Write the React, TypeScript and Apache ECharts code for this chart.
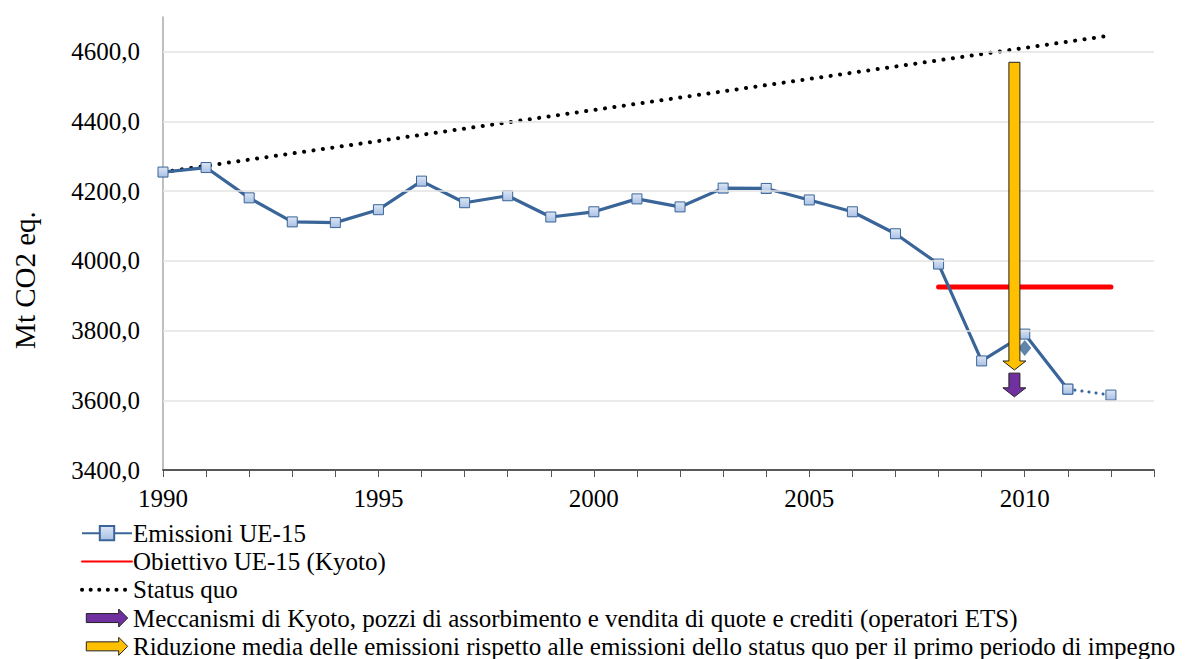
import React, { useEffect, useRef } from "react";
import * as echarts from "echarts";

const years = [1990, 1991, 1992, 1993, 1994, 1995, 1996, 1997, 1998, 1999, 2000, 2001, 2002, 2003, 2004, 2005, 2006, 2007, 2008, 2009, 2010, 2011];
const emissions = [4255, 4268, 4181, 4112, 4110, 4147, 4229, 4167, 4187, 4126, 4141, 4178, 4155, 4209, 4208, 4175, 4141, 4078, 3991, 3713, 3790, 3632];
const tailYears = [2011, 2012];
const tailValues = [3632, 3615];
const diamondPoint = [2010, 3750];
const kyotoYears = [2008, 2012];
const kyotoValue = 3925;
const statusQuo = [[1990, 4255], [2012, 4647]];
const arrowX = 2009.76;
const yellowArrow = [4570, 3687];
const purpleArrow = [3678, 3610];
const gridValues = [3600, 3800, 4000, 4200, 4400, 4600];
const yLabelValues = [3400, 3600, 3800, 4000, 4200, 4400, 4600];
const xLabelYears = [1990, 1995, 2000, 2005, 2010];
const yTicks = { min: 3400, max: 4700, interval: 200 };
const xRange = { min: 1990, max: 2013 };
const yTitle = "Mt CO2 eq.";

const names = {
  emissions: "Emissioni UE-15",
  kyoto: "Obiettivo UE-15 (Kyoto)",
  status: "Status quo",
  purple: "Meccanismi di Kyoto, pozzi di assorbimento e vendita di quote e crediti (operatori ETS)",
  yellow: "Riduzione media delle emissioni rispetto alle emissioni dello status quo per il primo periodo di impegno",
};
const legendOrder = [names.emissions, names.kyoto, names.status, names.purple, names.yellow];

const FONT = "Liberation Serif";
const BLUE = "#3a6598";
const ARROW_ICON = "path://M0,5 L36,5 L36,0 L46,10 L36,20 L36,15 L0,15 Z";
const HIDDEN = { color: "rgba(0,0,0,0)", borderColor: "rgba(0,0,0,0)", borderWidth: 0 };
const LEGEND_TOP = 519;
const LEGEND_ROW = 28.3;
const TINY = 0.0005;

function arrowRenderer(color: string) {
  return (params: any, api: any) => {
    const x = api.value(0);
    const top = api.coord([x, api.value(1)]);
    const tip = api.coord([x, api.value(2)]);
    const cx = top[0];
    const sw = 5.5;
    const hw = 11.5;
    const hl = 9;
    const pts = [
      [cx - sw, top[1]],
      [cx + sw, top[1]],
      [cx + sw, tip[1] - hl],
      [cx + hw, tip[1] - hl],
      [cx, tip[1]],
      [cx - hw, tip[1] - hl],
      [cx - sw, tip[1] - hl],
    ];
    return {
      type: "polygon",
      shape: { points: pts },
      style: { fill: color, stroke: "#222", lineWidth: 1 },
    };
  };
}

function txt(text: string, x: number, y: number, align: string, vAlign: string, size = 25, rotation = TINY) {
  return {
    type: "text",
    x,
    y,
    rotation,
    silent: true,
    style: { text, fontFamily: FONT, fontSize: size, fill: "#000", align, verticalAlign: vAlign },
  };
}

export default function App() {
  const ref = useRef<HTMLDivElement>(null);
  useEffect(() => {
    if (!ref.current) return;
    const chart = echarts.init(ref.current, null, { renderer: "svg" });
    const markerStyle = {
      color: new echarts.graphic.LinearGradient(0, 0, 0, 1, [
        { offset: 0, color: "#dce6f5" },
        { offset: 1, color: "#a9c0e4" },
      ]),
      borderColor: BLUE,
      borderWidth: 1,
    };
    chart.setOption({
      animation: false,
      grid: { left: 163, right: 38, top: 17, bottom: 189 },
      legend: {
        orient: "vertical",
        left: 80,
        top: LEGEND_TOP,
        height: 200,
        padding: 0,
        itemWidth: 50,
        itemHeight: 18,
        itemGap: 0,
        formatter: () => " ",
        textStyle: { fontFamily: FONT, fontSize: 25, lineHeight: LEGEND_ROW, color: "#000" },
        data: [
          { name: names.emissions },
          { name: names.kyoto, itemStyle: HIDDEN },
          { name: names.status, itemStyle: HIDDEN, lineStyle: { color: "#000", width: 4, type: [0.1, 8.5], cap: "round" } },
          { name: names.purple, icon: ARROW_ICON, itemStyle: { color: "#7030a0", borderColor: "#222", borderWidth: 1 } },
          { name: names.yellow, icon: ARROW_ICON, itemStyle: { color: "#ffc000", borderColor: "#222", borderWidth: 1 } },
        ],
      },
      xAxis: {
        type: "value",
        min: xRange.min,
        max: xRange.max,
        interval: 1,
        axisLine: { show: true, lineStyle: { color: "#222", width: 1.5 } },
        axisTick: { show: true, length: 7, lineStyle: { color: "#555" } },
        axisLabel: { show: false },
        splitLine: { show: false },
      },
      yAxis: {
        type: "value",
        min: yTicks.min,
        max: yTicks.max,
        interval: yTicks.interval,
        axisLine: { show: true, lineStyle: { color: "#aaa", width: 1.5 } },
        axisTick: { show: false },
        axisLabel: { show: false },
        splitLine: { show: false },
      },
      series: [
        {
          name: "grid",
          type: "line",
          data: [],
          silent: true,
          markLine: {
            silent: true,
            symbol: "none",
            label: { show: false },
            lineStyle: { color: "#e3e3e3", width: 1.5, type: "solid" },
            data: gridValues.map((v) => ({ yAxis: v })),
          },
        },
        {
          name: names.status,
          type: "line",
          data: statusQuo,
          symbol: "none",
          z: 3,
          lineStyle: { color: "#000", width: 4, type: [0.1, 9.4], cap: "round" },
          itemStyle: { color: "#000" },
        },
        {
          name: names.kyoto,
          type: "line",
          data: kyotoYears.map((y) => [y, kyotoValue]),
          symbol: "none",
          z: 3,
          lineStyle: { color: "#ff0000", width: 5, cap: "round" },
          itemStyle: { color: "#ff0000" },
        },
        {
          name: "tail",
          type: "line",
          data: tailYears.map((y, i) => [y, tailValues[i]]),
          symbol: "rect",
          symbolSize: 10,
          z: 4,
          lineStyle: { color: BLUE, width: 3, type: [0.1, 7], cap: "round" },
          itemStyle: markerStyle,
        },
        {
          name: names.emissions,
          type: "line",
          data: years.map((y, i) => [y, emissions[i]]),
          symbol: "rect",
          symbolSize: 10,
          z: 4,
          lineStyle: { color: BLUE, width: 3.2 },
          itemStyle: markerStyle,
        },
        {
          name: "diamond",
          type: "scatter",
          data: [diamondPoint],
          symbol: "diamond",
          symbolSize: [13, 16],
          z: 4,
          itemStyle: { color: BLUE },
        },
        {
          name: names.yellow,
          type: "custom",
          renderItem: arrowRenderer("#ffc000"),
          data: [[arrowX, yellowArrow[0], yellowArrow[1]]],
          itemStyle: { color: "#ffc000" },
          z: 5,
        },
        {
          name: names.purple,
          type: "custom",
          renderItem: arrowRenderer("#7030a0"),
          data: [[arrowX, purpleArrow[0], purpleArrow[1]]],
          itemStyle: { color: "#7030a0" },
          z: 5,
        },
      ],
    });

    const texts: any[] = [];
    xLabelYears.forEach((yr) => {
      const p = chart.convertToPixel({ gridIndex: 0 }, [yr, yTicks.min]) as number[];
      texts.push(txt(String(yr), p[0], p[1] + 16, "center", "top"));
    });
    yLabelValues.forEach((v) => {
      const p = chart.convertToPixel({ gridIndex: 0 }, [xRange.min, v]) as number[];
      texts.push(txt(v.toFixed(1).replace(".", ","), p[0] - 23, p[1], "right", "middle"));
    });
    legendOrder.forEach((n, i) => {
      texts.push(txt(n, 133, LEGEND_TOP + LEGEND_ROW * (i + 0.5), "left", "middle"));
    });
    texts.push(txt(yTitle, 25, 280, "center", "middle", 29, Math.PI / 2));
    chart.setOption({ graphic: texts });

    return () => chart.dispose();
  }, []);
  return <div ref={ref} style={{ width: 1192, height: 659, position: "absolute", left: 0, top: 0 }} />;
}
